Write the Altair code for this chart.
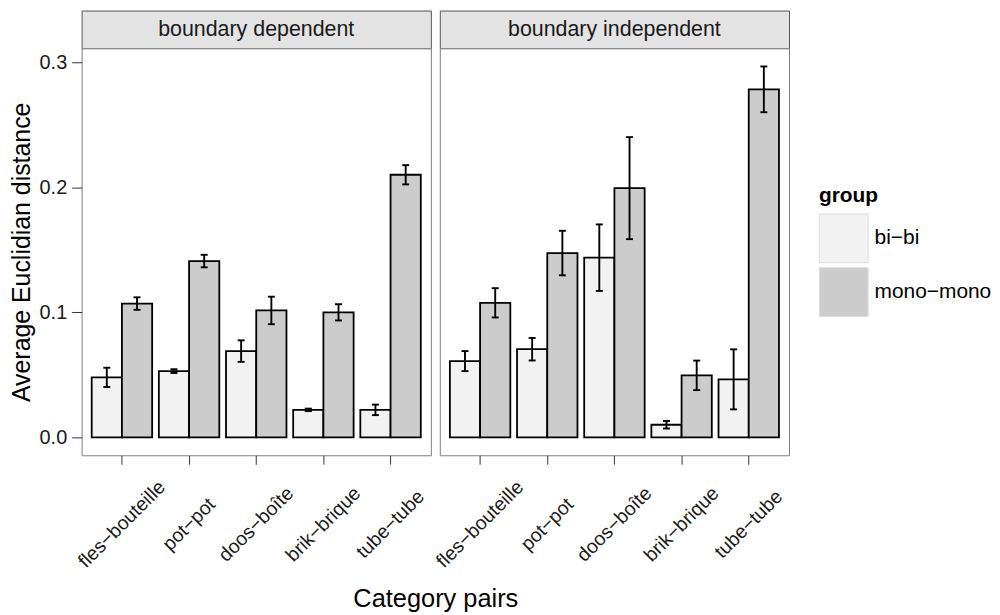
import altair as alt
import pandas as pd

# ---- data ----
pairs = ["fles−bouteille", "pot−pot", "doos−boîte", "brik−brique", "tube−tube"]
groups = ["bi−bi", "mono−mono"]
panels = ["boundary dependent", "boundary independent"]

dep_bi = [0.048, 0.053, 0.069, 0.022, 0.022]
dep_bi_se = [0.0077, 0.0015, 0.0086, 0.0010, 0.0042]
dep_mono = [0.107, 0.141, 0.1015, 0.100, 0.210]
dep_mono_se = [0.0050, 0.0050, 0.0110, 0.0065, 0.0077]

ind_bi = [0.061, 0.0705, 0.1437, 0.0101, 0.0464]
ind_bi_se = [0.0080, 0.0090, 0.0266, 0.0030, 0.0240]
ind_mono = [0.1076, 0.1474, 0.1993, 0.0496, 0.2783]
ind_mono_se = [0.0117, 0.0178, 0.0408, 0.0118, 0.0183]

series = {
    panels[0]: [(groups[0], dep_bi, dep_bi_se), (groups[1], dep_mono, dep_mono_se)],
    panels[1]: [(groups[0], ind_bi, ind_bi_se), (groups[1], ind_mono, ind_mono_se)],
}

rows = []
for pnl, lst in series.items():
    for grp, vals, ses in lst:
        for p, v, s in zip(pairs, vals, ses):
            rows.append(dict(panel=pnl, pair=p, group=grp, value=v, lo=v - s, hi=v + s))
df = pd.DataFrame(rows)

FONT = "Liberation Sans"
W, H, SH = 351, 409, 38
ydom = [-0.0143, 0.3111]


def panel_chart(name, first):
    d = df[df.panel == name]
    base = alt.Chart(d)
    xaxis = alt.Axis(
        title="Category pairs" if first else None,
        labelAngle=315, labelAlign="center", labelBaseline="middle",
        labelPadding=60, labelFontSize=19.5, tickSize=9, labelOverlap=False,
        titleFontSize=25.5, titleX=W + 4.5, titleY=152, titleAlign="center",
        titleBaseline="alphabetic",
    )
    x = alt.X("pair:N", sort=pairs,
              scale=alt.Scale(paddingInner=0.1, paddingOuter=0.15), axis=xaxis)
    xo = alt.XOffset("group:N", sort=groups,
                     scale=alt.Scale(paddingInner=0, paddingOuter=0))
    if first:
        yaxis = alt.Axis(title="Average Euclidian distance", values=[0, 0.1, 0.2, 0.3],
                         format=".1f", tickSize=10, labelPadding=5, labelFontSize=20,
                         titleFontSize=25, titlePadding=5)
    else:
        yaxis = None
    ysc = alt.Scale(domain=ydom, nice=False, zero=False)
    fill = alt.Fill("group:N", sort=groups,
                    scale=alt.Scale(domain=groups, range=["#F2F2F2", "#CCCCCC"]),
                    legend=alt.Legend(title="group", orient="none", legendX=741, legendY=175))
    bars = base.mark_bar(stroke="black", strokeWidth=1.8).encode(
        x=x, xOffset=xo,
        y=alt.Y("value:Q", scale=ysc, axis=yaxis),
        y2=alt.datum(0),
        fill=fill,
    )
    rules = base.mark_rule(color="black", strokeWidth=1.9).encode(
        x=x, xOffset=xo,
        y=alt.Y("lo:Q", scale=ysc, axis=yaxis),
        y2="hi:Q",
    )
    cap_lo = base.mark_tick(color="black", size=7, thickness=1.9, opacity=1).encode(
        x=x, xOffset=xo, y=alt.Y("lo:Q", scale=ysc, axis=yaxis))
    cap_hi = base.mark_tick(color="black", size=7, thickness=1.9, opacity=1).encode(
        x=x, xOffset=xo, y=alt.Y("hi:Q", scale=ysc, axis=yaxis))
    return alt.layer(bars, rules, cap_lo, cap_hi).properties(width=W, height=H)


def strip_chart(name):
    return alt.Chart(pd.DataFrame({"label": [name]})).mark_text(
        font=FONT, fontSize=21.5, color="#1a1a1a", baseline="middle", align="center"
    ).encode(
        x=alt.value(W / 2), y=alt.value(SH / 2 + 1), text="label:N"
    ).properties(
        width=W, height=SH,
        view=alt.ViewBackground(fill="#E3E3E3", stroke="#555555", strokeWidth=1),
    )


cells = [strip_chart(panels[0]), strip_chart(panels[1]),
         panel_chart(panels[0], True), panel_chart(panels[1], False)]

chart = alt.concat(*cells, columns=2, spacing=alt.RowColnumber(row=0, column=9),
                   bounds="flush").properties(
    padding=0, background="white"
).configure_view(
    stroke="#7F7F7F", strokeWidth=1, fill="white"
).configure_axis(
    labelFont=FONT, titleFont=FONT, labelColor="#1a1a1a", titleColor="black",
    tickColor="#333333", domain=False, grid=False, titleFontWeight="normal",
).configure_legend(
    titleFont=FONT, labelFont=FONT, titleFontSize=21, titleFontWeight="bold",
    titleColor="black", labelFontSize=21, labelColor="black",
    symbolType="square", symbolSize=2401, symbolStrokeColor="#DDDDDD",
    symbolStrokeWidth=1, rowPadding=0, labelOffset=6, titlePadding=8,
)

chart.save("out.html", embed_options={"renderer": "svg", "actions": False})
